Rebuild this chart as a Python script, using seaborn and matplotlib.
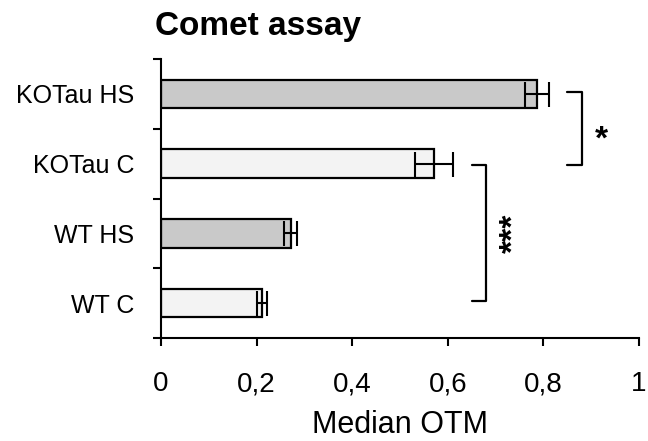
import numpy as np
import pandas as pd
import matplotlib
matplotlib.use("Agg")
import matplotlib.pyplot as plt
from matplotlib.ticker import FixedLocator
import seaborn as sns

# data
groups = ['KOTau HS', 'KOTau C', 'WT HS', 'WT C']
median_otm = [0.786, 0.571, 0.271, 0.211]
sem = [0.025, 0.040, 0.013, 0.011]
bar_colors = ['#c9c9c9', '#f3f3f3', '#c9c9c9', '#f3f3f3']
xticks = [0, 0.2, 0.4, 0.6, 0.8, 1]
xtick_labels = ['0', '0,2', '0,4', '0,6', '0,8', '1']

sns.set_theme(style='white')
plt.rcParams['font.family'] = ['Liberation Sans', 'DejaVu Sans']
plt.rcParams['text.color'] = 'black'
plt.rcParams['axes.labelcolor'] = 'black'
plt.rcParams['xtick.color'] = 'black'
plt.rcParams['ytick.color'] = 'black'

df = pd.DataFrame({'group': groups, 'otm': median_otm})

fig = plt.figure(figsize=(6.48, 4.41), dpi=100)
ax = fig.add_axes([161/648, 1 - 338/441, (639 - 161)/648, (338 - 59)/441])

sns.barplot(data=df, x='otm', y='group', hue='group', palette=bar_colors,
            order=groups, hue_order=groups, orient='h', width=0.41,
            edgecolor='black', linewidth=1.6, errorbar=None, legend=False, ax=ax)
ax.errorbar(median_otm, np.arange(len(groups)), xerr=sem, fmt='none',
            ecolor='black', elinewidth=1.5, capsize=9, capthick=1.5)

ax.set_xlim(0, 1)
ax.set_ylim(3.5, -0.5)
ax.set_xticks(xticks)
ax.set_xticklabels(xtick_labels, fontsize=20)
ax.set_xlabel('Median OTM', fontsize=22, labelpad=9)
ax.set_ylabel('')
ax.tick_params(axis='y', which='major', length=0, pad=19, labelsize=18)
ax.yaxis.set_minor_locator(FixedLocator(np.arange(-0.5, 4, 1)))
ax.tick_params(axis='y', which='minor', left=True, direction='out', length=6, width=1.5, color='black')
ax.tick_params(axis='x', bottom=True, direction='out', length=6, width=1.5, color='black', pad=18)
for side in ['top', 'right']:
    ax.spines[side].set_visible(False)
for side in ['left', 'bottom']:
    ax.spines[side].set_color('black')
    ax.spines[side].set_linewidth(1.5)

# significance brackets
ax.plot([0.849, 0.881, 0.881, 0.849], [-0.02, -0.02, 1.02, 1.02], color='black', lw=1.6, clip_on=False)
ax.text(0.921, 0.66, '*', fontsize=24, fontweight='bold', ha='center', va='center')
ax.plot([0.650, 0.679, 0.679, 0.650], [1.02, 1.02, 2.97, 2.97], color='black', lw=1.6, clip_on=False)
ax.text(0.738, 2.0, '***', fontsize=24, fontweight='bold', ha='center', va='center', rotation=90)

fig.text(155/648, 1 - 27/441, 'Comet assay', fontsize=24, fontweight='bold', ha='left', va='center')

fig.savefig('out.png', dpi=100)
